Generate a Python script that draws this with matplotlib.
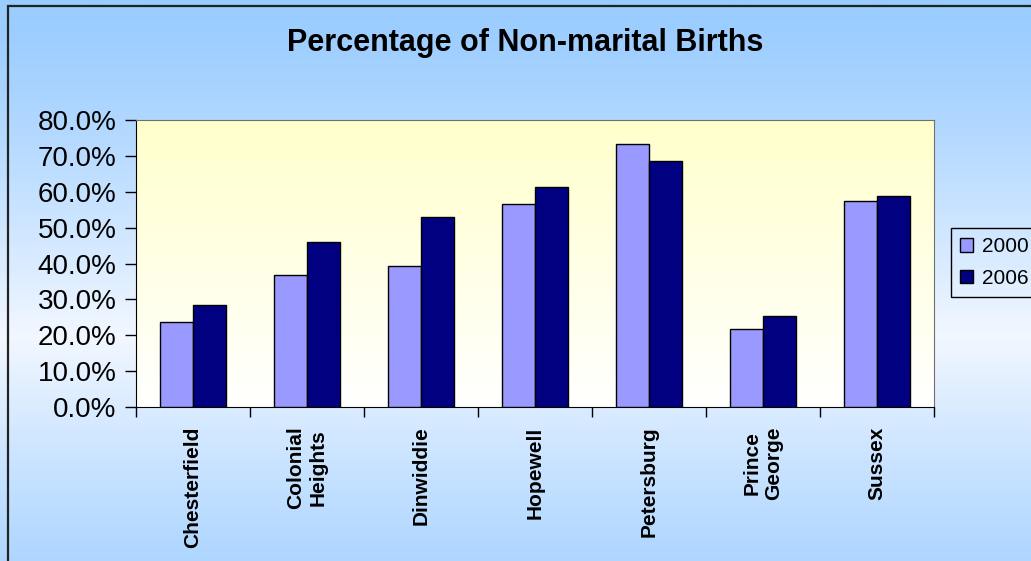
import numpy as np
import matplotlib
matplotlib.use("Agg")
import matplotlib.pyplot as plt
from matplotlib.patches import Rectangle

# data
counties = ["Chesterfield", "Colonial\nHeights", "Dinwiddie", "Hopewell",
            "Petersburg", "Prince\nGeorge", "Sussex"]
pct_2000 = [23.7, 36.8, 39.3, 56.5, 73.2, 21.8, 57.3]
pct_2006 = [28.5, 45.9, 53.1, 61.2, 68.5, 25.5, 58.7]
series_names = ["2000", "2006"]
yticks = [0, 10, 20, 30, 40, 50, 60, 70, 80]

plt.rcParams['font.family'] = ['Liberation Sans', 'DejaVu Sans']

fig = plt.figure(figsize=(10.31, 5.61), dpi=100)

# figure background: blue, lighter band across the middle
bg = fig.add_axes([0, 0, 1, 1], zorder=-10)
t = np.linspace(0, 1, 256)
w = np.clip(1 - np.abs(t - 0.6) / 0.6, 0, 1) ** 1.3
top = np.array([0.60, 0.80, 1.0])
light = np.array([0.95, 0.97, 1.0])
grad = top[None, :] * (1 - w[:, None]) + light[None, :] * w[:, None]
bg.imshow(grad[:, None, :], aspect='auto', extent=[0, 1, 0, 1])
bg.axis('off')

# outer border (only left/top are visible in the crop)
fig.patches.append(Rectangle((8 / 1031, -0.1), 1.2, 1 - 6 / 561 + 0.1,
                             transform=fig.transFigure, fill=False,
                             edgecolor='#222222', lw=1.6, zorder=-5))

ax = fig.add_axes([136 / 1031, 1 - 407 / 561, (934 - 136) / 1031, (407 - 120) / 561])
ax.set_facecolor('none')

x = np.arange(len(counties))
bw = 0.29
b1 = ax.bar(x - bw / 2, pct_2000, bw, color='#9999FF', edgecolor='black', lw=1, zorder=3,
            label=series_names[0])
b2 = ax.bar(x + bw / 2, pct_2006, bw, color='#000080', edgecolor='black', lw=1, zorder=3,
            label=series_names[1])

# plot area gradient: light yellow at top to white at bottom
pg = np.linspace(0, 1, 256)[:, None]
yel = np.array([1.0, 1.0, 0.80])
wht = np.array([1.0, 1.0, 1.0])
pgrad = yel[None, None, :] * (1 - pg[:, :, None]) + wht[None, None, :] * pg[:, :, None]
ax.imshow(pgrad, aspect='auto', origin='upper',
          extent=[-0.5, len(counties) - 0.5, 0, 80], zorder=0)
ax.set_xlim(-0.5, len(counties) - 0.5)
ax.set_ylim(0, 80)

ax.set_yticks(yticks)
ax.set_yticklabels([f"{v:.1f}%" for v in yticks], fontsize=20)
ax.tick_params(axis='y', direction='out', length=8, width=1, pad=6)

ax.set_xticks(np.arange(len(counties) + 1) - 0.5)
ax.set_xticklabels([])
ax.tick_params(axis='x', which='major', direction='out', length=7, width=1)
ax.set_xticks(x, minor=True)
ax.set_xticklabels(counties, minor=True, rotation=90, fontsize=15, fontweight='bold',
                   va='top', ha='center', multialignment='center',
                   family=['Liberation Sans Narrow', 'Liberation Sans', 'DejaVu Sans'])
ax.tick_params(axis='x', which='minor', length=0, pad=14)

for s in ['left', 'bottom']:
    ax.spines[s].set_color('black')
for s in ['top', 'right']:
    ax.spines[s].set_color('#707070')

fig.text(525 / 1031, 1 - 43 / 561, "Percentage of Non-marital Births",
         fontsize=22, fontweight='bold', ha='center', va='center')

fig.legend(handles=[b1, b2], labels=series_names, loc='upper left',
           bbox_to_anchor=(951 / 1031, 1 - 228 / 561), bbox_transform=fig.transFigure,
           fontsize=15, frameon=True, fancybox=False, edgecolor='black',
           facecolor='none', framealpha=1, handlelength=0.6, handleheight=0.6,
           handletextpad=0.45, borderpad=0.45, labelspacing=0.6, borderaxespad=0)

fig.savefig("out.png", dpi=100)
